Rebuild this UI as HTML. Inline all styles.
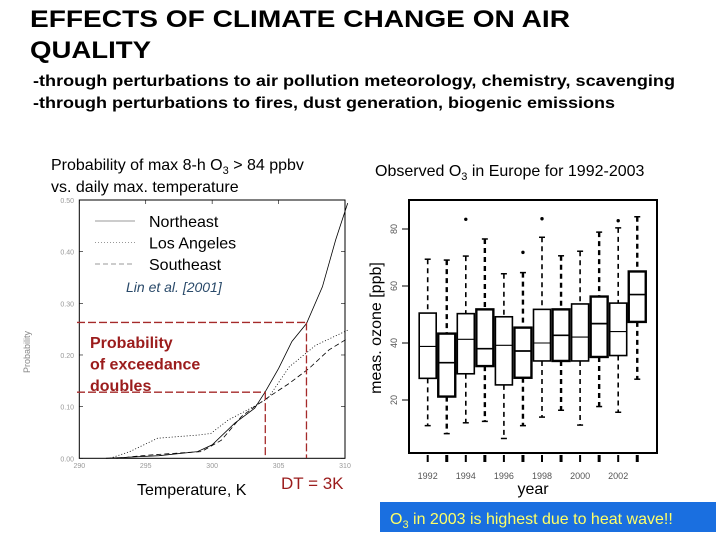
<!DOCTYPE html>
<html><head><meta charset="utf-8"><style>
html,body{margin:0;padding:0;background:#fff}
svg{display:block;font-family:"Liberation Sans",Arial,sans-serif}
</style></head><body>
<svg id="s" width="720" height="540" viewBox="0 0 720 540">
<g font-weight="bold" font-size="24" fill="#000">
<text x="30" y="27" textLength="540" lengthAdjust="spacingAndGlyphs">EFFECTS OF CLIMATE CHANGE ON AIR</text>
<text x="30" y="58" textLength="121" lengthAdjust="spacingAndGlyphs">QUALITY</text>
</g>
<g font-weight="bold" font-size="16" fill="#000">
<text x="33" y="86" textLength="642" lengthAdjust="spacingAndGlyphs">-through perturbations to air pollution meteorology, chemistry, scavenging</text>
<text x="33" y="108" textLength="582" lengthAdjust="spacingAndGlyphs">-through perturbations to fires, dust generation, biogenic emissions</text>
</g>
<g font-size="16" fill="#000">
<text x="51" y="170">Probability of max 8-h O<tspan font-size="11" dy="4">3</tspan><tspan dy="-4"> &gt; 84 ppbv</tspan></text>
<text x="51" y="192">vs. daily max. temperature</text>
<text x="375" y="176">Observed O<tspan font-size="11" dy="4">3</tspan><tspan dy="-4"> in Europe for 1992-2003</tspan></text>
</g>
<g id="left"></g>
<g id="right"></g>
<rect x="380" y="502" width="336" height="30" fill="#1a6fe0"/>
<text x="390" y="524" font-size="16" fill="#ffff66">O<tspan font-size="11" dy="4">3</tspan><tspan dy="-4"> in 2003 is highest due to heat wave!!</tspan></text>
</svg>
<script>
const NS='http://www.w3.org/2000/svg';
function mk(p,tag,a,txt){const e=document.createElementNS(NS,tag);for(const k in a)e.setAttribute(k,a[k]);if(txt!==undefined)e.textContent=txt;p.appendChild(e);return e;}

// ---- left chart data ----
const tempTicks=[290,295,300,305,310];
const probTicks=[0,0.1,0.2,0.3,0.4,0.5];
const neT=[292.0,296.0,298.9,300.0,301.7,303.2,304.0,305.0,306.0,307.1,308.3,309.3,310.2];
const neP=[0,0.005,0.013,0.026,0.068,0.097,0.129,0.174,0.226,0.261,0.332,0.423,0.494];
const laT=[292.3,293.8,295.9,298.9,299.9,301.2,302.7,304.2,305.8,307.8,310.2];
const laP=[0,0.013,0.039,0.045,0.048,0.074,0.094,0.116,0.177,0.219,0.248];
const seT=[292.8,295.1,297.4,299.2,300.7,302.2,303.2,304.5,305.8,307.3,308.8,310.2];
const seP=[0,0.006,0.010,0.013,0.035,0.081,0.100,0.123,0.145,0.174,0.210,0.232];
const markT=[304.0,307.1];
const markP=[0.128,0.263];

// ---- right chart data ----
const years=[1992,1993,1994,1995,1996,1997,1998,1999,2000,2001,2002,2003];
const whiskHi=[69.4,69.1,70.5,76.5,64.3,64.7,77.1,70.6,72.2,78.9,80.4,84.3];
const boxTop=[50.5,43.3,50.3,51.8,49.2,45.4,51.8,51.8,53.7,56.3,54.0,65.1];
const medians=[38.8,33.1,41.3,38.0,39.2,37.2,40.0,42.7,42.1,46.8,44.0,57.0];
const boxBot=[27.6,21.2,29.2,31.9,25.3,27.8,33.7,33.7,33.7,35.1,35.6,47.4];
const whiskLo=[11.0,8.2,12.0,12.5,6.5,11.0,14.0,16.4,11.2,17.7,15.7,27.3];
const outliers=[null,null,83.4,null,null,71.8,83.6,null,null,null,82.9,null];
const ozTicks=[20,40,60,80];
const yearLabels=['1992','1994','1996','1998','2000','2002'];

// ---- left chart draw ----
const L=document.getElementById('left');
const lx=t=>79.3+(t-290)*(265.7/20);
const ly=p=>458.3-p*516.6;
mk(L,'rect',{x:79.3,y:200,width:265.7,height:258.3,fill:'none',stroke:'#000','stroke-width':1});
probTicks.forEach(p=>{
 const t=mk(L,'text',{x:74,y:ly(p)+3,'font-size':7,fill:'#999','text-anchor':'end'},p.toFixed(2));
 
 mk(L,'line',{x1:79,x2:83,y1:ly(p),y2:ly(p),stroke:'#000','stroke-width':0.6});
 mk(L,'line',{x1:341,x2:345,y1:ly(p),y2:ly(p),stroke:'#000','stroke-width':0.6});
});
tempTicks.forEach(t=>{
 const e=mk(L,'text',{x:lx(t),y:468,'font-size':7,fill:'#999','text-anchor':'middle'},t);
 
 mk(L,'line',{x1:lx(t),x2:lx(t),y1:200,y2:204,stroke:'#000','stroke-width':0.6});
});
const yl=mk(L,'text',{x:30,y:352,'font-size':9,fill:'#888','text-anchor':'middle',transform:'rotate(-90 30 352)'},'Probability');

function series(T,P,dash,name){
 const d=T.map((t,i)=>(i?'L':'M')+lx(t).toFixed(1)+' '+ly(P[i]).toFixed(1)).join(' ');
 const e=mk(L,'path',{d:d,fill:'none',stroke:'#000','stroke-width':0.8,'stroke-dasharray':dash});
 
}
series(neT,neP,'','northeast-line');
series(laT,laP,'1 2','los-angeles-line');
series(seT,seP,'5 3','southeast-line');
// red markers
for(let i=0;i<markT.length;i++){
 const h=mk(L,'line',{x1:77,x2:lx(markT[i]),y1:ly(markP[i]),y2:ly(markP[i]),stroke:'#a52a2a','stroke-width':1.3,'stroke-dasharray':'8 3'});
 
 const v=mk(L,'line',{x1:lx(markT[i]),x2:lx(markT[i]),y1:ly(markP[i]),y2:458,stroke:'#a52a2a','stroke-width':1.3,'stroke-dasharray':'8 3'});
 
}
// legend
const legNames=['Northeast','Los Angeles','Southeast'];const legDash=['','1 2','5 3'];
legNames.forEach((n,i)=>{
 const y=221+i*21.5;
 const ln=mk(L,'line',{x1:95,x2:135,y1:y,y2:y,stroke:'#777','stroke-width':0.8,'stroke-dasharray':legDash[i]});
 
 const t=mk(L,'text',{x:149,y:y+6,'font-size':16,fill:'#000'},n);
 
});
const cit=mk(L,'text',{x:126,y:292,'font-size':14,'font-style':'italic',fill:'#2a4a6a'},'Lin et al. [2001]');

['Probability','of exceedance','doubles'].forEach((s,i)=>{
 const t=mk(L,'text',{x:90,y:348+i*21.5,'font-size':16,'font-weight':'bold',fill:'#9b1c1c'},s);
 
});
const xt=mk(L,'text',{x:137,y:495,'font-size':16,fill:'#000'},'Temperature, K');

const dt=mk(L,'text',{x:281,y:489,'font-size':17,fill:'#9b1c1c'},'DT = 3K');


// ---- right chart draw ----
const R=document.getElementById('right');
const rx=i=>427.7+i*19.05;
const ry=v=>343-(v-40)*2.85;
const fr=mk(R,'rect',{x:409,y:200,width:248,height:253,fill:'none',stroke:'#000','stroke-width':2});

ozTicks.forEach(v=>{
 mk(R,'line',{x1:402,x2:409,y1:ry(v),y2:ry(v),stroke:'#000','stroke-width':1});
 const t=mk(R,'text',{x:397,y:ry(v),'font-size':9,fill:'#555','text-anchor':'middle',transform:`rotate(-90 397 ${ry(v)})`},v);
 
});
const ryl=mk(R,'text',{x:381,y:328,'font-size':16,fill:'#000','text-anchor':'middle',transform:'rotate(-90 381 328)'},'meas. ozone [ppb]');

years.forEach((yr,i)=>{
 const x=rx(i),w=17,sw=(i%2)?2.4:1.6;
 const g=mk(R,'g',{});
 
 mk(g,'line',{x1:x,x2:x,y1:ry(whiskHi[i]),y2:ry(boxTop[i]),stroke:'#000','stroke-width':sw,'stroke-dasharray':'5 4'});
 mk(g,'line',{x1:x,x2:x,y1:ry(boxBot[i]),y2:ry(whiskLo[i]),stroke:'#000','stroke-width':sw,'stroke-dasharray':'5 4'});
 mk(g,'line',{x1:x-3,x2:x+3,y1:ry(whiskHi[i]),y2:ry(whiskHi[i]),stroke:'#000','stroke-width':1.5});
 mk(g,'line',{x1:x-3,x2:x+3,y1:ry(whiskLo[i]),y2:ry(whiskLo[i]),stroke:'#000','stroke-width':1.5});
 mk(g,'rect',{x:x-w/2,y:ry(boxTop[i]),width:w,height:ry(boxBot[i])-ry(boxTop[i]),fill:'#fff',stroke:'#000','stroke-width':sw});
 mk(g,'line',{x1:x-w/2,x2:x+w/2,y1:ry(medians[i]),y2:ry(medians[i]),stroke:'#000','stroke-width':sw*0.7});
 if(outliers[i]!==null){mk(g,'circle',{cx:x,cy:ry(outliers[i]),r:1.7,fill:'#000'});}
 mk(R,'line',{x1:x,x2:x,y1:455,y2:462,stroke:'#000','stroke-width':(i%2)?3:2});
});
yearLabels.forEach((s,j)=>{
 const t=mk(R,'text',{x:rx(j*2),y:479,'font-size':9,fill:'#555','text-anchor':'middle'},s);
 
});
const yx=mk(R,'text',{x:533,y:494,'font-size':16,fill:'#000','text-anchor':'middle'},'year');

</script>
</body></html>
